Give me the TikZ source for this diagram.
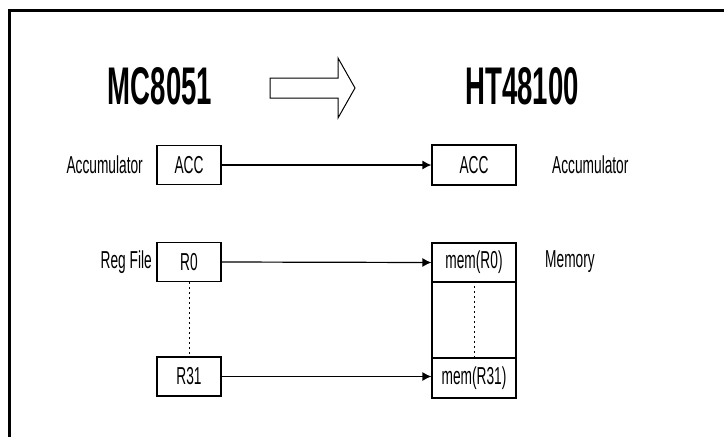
\documentclass[tikz,border=0pt]{standalone}
\usepackage{fontspec}
\setmainfont{Liberation Sans}
\newfontfamily\lblfont[FakeStretch=0.56]{Liberation Sans}
\newfontfamily\ttlfont[FakeStretch=0.52]{Liberation Sans}
\usetikzlibrary{arrows.meta}
\begin{document}
\begin{tikzpicture}[x=1pt,y=-1pt,
  lbl/.style={inner sep=0pt,font=\lblfont\fontsize{24.5}{24.5}\selectfont},
  ttl/.style={inner sep=0pt,font=\ttlfont\bfseries\fontsize{53}{53}\selectfont},
  regbox/.style={draw,line width=1.2pt,inner sep=0pt,minimum width=64pt,minimum height=39pt,font=\lblfont\fontsize{24.5}{24.5}\selectfont},
  membox/.style={draw,line width=1.2pt,inner sep=0pt,minimum width=84pt,font=\lblfont\fontsize{24.5}{24.5}\selectfont},
  conn/.style={line width=1.2pt,-{Latex[length=9pt,width=9pt]}},
  dots/.style={line width=1pt,dash pattern=on 2pt off 3pt}]
\useasboundingbox (0,0) rectangle (724,437);
\fill[white] (0,0) rectangle (724,437);
% frame
\draw[line width=3pt] (9.5,437) -- (9.5,10.5) -- (724,10.5);
% titles
\node[ttl] (t1) at (160,86) {MC8051};
\node[ttl] (t2) at (522,86) {HT48100};
\draw[line width=1pt,fill=white] (270,78) -- (338,78) -- (338,58) -- (355,88) -- (338,118) -- (338,98) -- (270,98) -- cycle;
% left boxes
\node[regbox] (acc1) at (189,165) {ACC};
\node[regbox] (r0) at (189,262) {R0};
\node[regbox] (r31) at (189,376.5) {R31};
% right boxes
\node[membox,minimum height=40pt] (acc2) at (474,165) {ACC};
\node[membox,minimum height=39pt] (m0) at (474,262.5) {mem(R0)};
\node[membox,minimum height=76pt] (mmid) at (474,320) {};
\node[membox,minimum height=40pt] (m31) at (474,378) {mem(R31)};
% labels
\node[lbl,anchor=east] (la1) at (143,165) {Accumulator};
\node[lbl,anchor=east] (lr) at (152,262) {Reg File};
\node[lbl,anchor=west] (la2) at (552,165) {Accumulator};
\node[lbl,anchor=west] (lm) at (545,262) {Memory};
% connectors
\draw[conn] (acc1.east) -- (acc2.west);
\draw[conn] (r0.east) -- (m0.west);
\draw[conn] (r31.east) -- (m31.west |- r31.east);
\draw[dots] (r0.south) -- (r31.north);
\draw[dots] (mmid.north) -- (mmid.south);
\end{tikzpicture}
\end{document}
